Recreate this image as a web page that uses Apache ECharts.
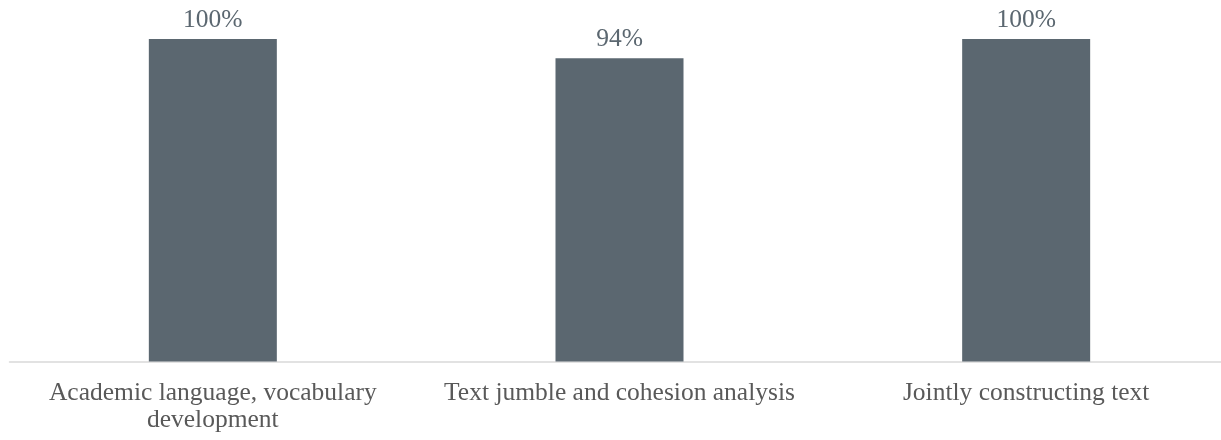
<!DOCTYPE html>
<html>
<head>
<meta charset="utf-8">
<script src="https://cdn.jsdelivr.net/npm/echarts@6/dist/echarts.min.js"></script>
<style>
  html, body { margin: 0; padding: 0; background: #ffffff; overflow: hidden; }
  #chart { width: 1230px; height: 440px; }
</style>
</head>
<body>
<div id="chart"></div>
<script>
// Activities and the share of respondents who rated each one useful
const categories = [
  'Academic language, vocabulary\ndevelopment',
  'Text jumble and cohesion analysis',
  'Jointly constructing text'
];
const percentages = [100, 94, 100];

const serif = '"Liberation Serif", "Times New Roman", serif';

// The plot runs slightly past the right edge of the visible page
const chart = echarts.init(document.getElementById('chart'));
chart.setOption({
  animation: false,
  backgroundColor: '#ffffff',
  grid: { left: 9.5, width: 1220, top: 39, bottom: 78.5, containLabel: false },
  xAxis: {
    type: 'category',
    data: categories,
    axisLine: { show: true, lineStyle: { color: '#d9d9d9', width: 1.5 } },
    axisTick: { show: false },
    axisLabel: {
      interval: 0,
      margin: 18,
      fontFamily: serif,
      fontSize: 25.5,
      lineHeight: 27,
      color: '#595959'
    }
  },
  yAxis: {
    type: 'value',
    min: 0,
    max: 100,
    show: false,
    splitLine: { show: false }
  },
  series: [{
    type: 'bar',
    data: percentages,
    barWidth: 128,
    itemStyle: { color: '#5b6770' },
    label: {
      show: true,
      position: 'top',
      distance: 6,
      formatter: '{c}%',
      fontFamily: serif,
      fontSize: 25.5,
      color: '#5b6770'
    }
  }]
});
</script>
</body>
</html>
